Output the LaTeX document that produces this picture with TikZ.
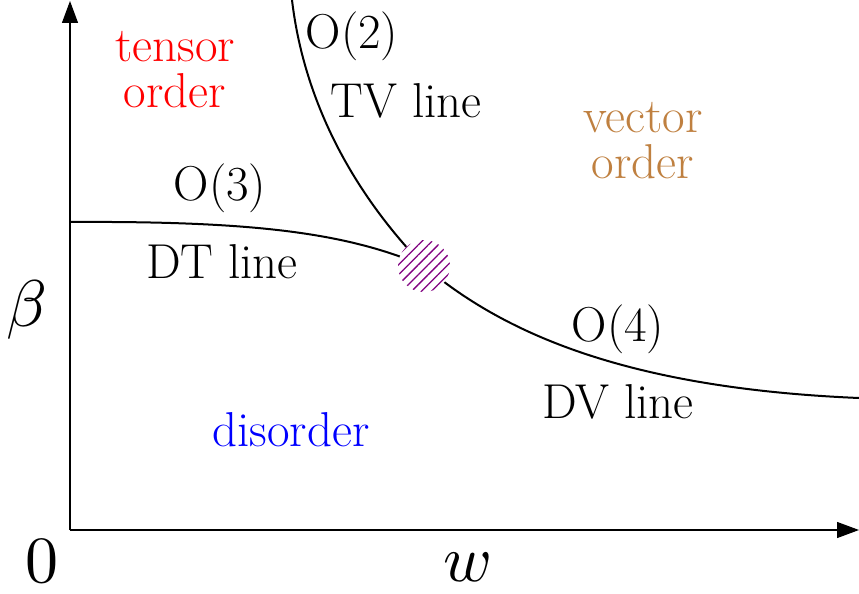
\documentclass[tikz,border=0pt]{standalone}
\usetikzlibrary{arrows.meta,patterns.meta}
\begin{document}
\begin{tikzpicture}[x=1pt,y=-1pt,
  lbl/.style={inner sep=0pt,font=\fontsize{49}{46}\selectfont,align=center},
  axlbl/.style={inner sep=0pt,scale=6.6},
  axis/.style={line width=1.2pt,-{Triangle[length=22pt,width=16pt]}},
  curve/.style={line width=2pt}]
\useasboundingbox (0,0) rectangle (859,594);
\coordinate (o) at (70,530);
\coordinate (ytop) at (70,1);
\coordinate (xend) at (859,530);
\draw[axis] (o) -- (ytop);
\draw[axis] (o) -- (xend);
\coordinate (c) at (424,266);
\coordinate (tvs) at (292,0);
\coordinate (dve) at (859,398);
\coordinate (dts) at (70,222);
\draw[curve] (tvs) .. controls (305,110) and (360,200) .. (c);
\draw[curve] (c) .. controls (500,330) and (620,388) .. (dve);
\draw[curve] (dts) .. controls (250,221) and (345,232) .. (c);
\node[circle,minimum size=52pt,inner sep=0pt,fill=white] (cp) at (c) {};
\fill[pattern={Lines[angle=45,distance=7pt,line width=1.3pt]},pattern color=violet] (c) circle[radius=26pt];
\node[lbl,red] (tens) at (175,70) {tensor\\order};
\node[lbl] (o2) at (352,36) {O(2)};
\node[lbl] (tv) at (406,101) {TV line};
\node[lbl,brown] (vec) at (643,141) {vector\\order};
\node[lbl] (o3) at (220,188) {O(3)};
\node[lbl] (dt) at (222,262) {DT line};
\node[lbl] (o4) at (618,329) {O(4)};
\node[lbl] (dv) at (618,402) {DV line};
\node[lbl,blue] (dis) at (291,430) {disorder};
\node[axlbl] (beta) at (27,310) {$\beta$};
\node[axlbl] (zero) at (42,561) {0};
\node[axlbl] (w) at (468,567) {$w$};
\end{tikzpicture}
\end{document}
